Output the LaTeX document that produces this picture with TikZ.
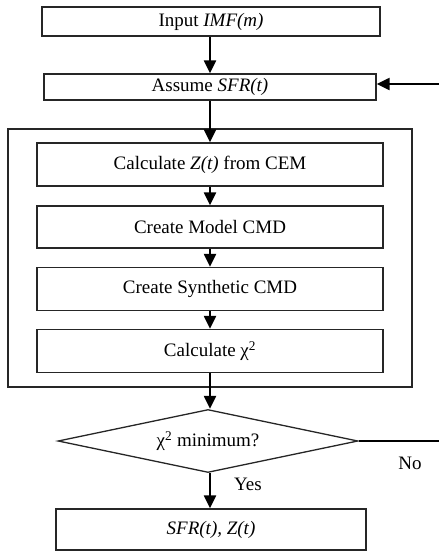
\documentclass[tikz,border=0pt]{standalone}
\usepackage{fontspec}
\setmainfont{Liberation Serif}
\usetikzlibrary{arrows.meta,shapes.geometric}
\begin{document}
\begin{tikzpicture}[x=1pt,y=-1pt,
  every node/.style={font=\fontsize{19}{22}\selectfont},
  stepbox/.style={draw=black!85,line width=1.3pt,inner sep=0pt},
  arr/.style={line width=2.2pt,-{Triangle[width=12pt,length=13pt]}},
  plain/.style={line width=2.2pt}]
\useasboundingbox (0,0) rectangle (439,560);
% top boxes
\node[stepbox,minimum width=338pt,minimum height=29pt] (in) at (211,21.5) {Input \textit{IMF(m)}};
\node[stepbox,minimum width=332pt,minimum height=26pt] (sfr) at (210,87) {Assume \textit{SFR(t)}};
% outer frame
\node[stepbox,minimum width=404pt,minimum height=258pt] (frame) at (210,258) {};
% inner boxes
\node[stepbox,minimum width=346pt,minimum height=43pt] (z) at (210,164.5) {Calculate \textit{Z(t)} from CEM};
\node[stepbox,minimum width=346pt,minimum height=42pt] (mod) at (210,227) {Create Model CMD};
\node[stepbox,minimum width=346pt,minimum height=43pt] (syn) at (210,289) {Create Synthetic CMD};
\node[stepbox,minimum width=346pt,minimum height=43pt] (chi) at (210,351) {Calculate χ\textsuperscript{2}};
% decision
\node[stepbox,shape=diamond,aspect=4.76,minimum width=300pt,minimum height=63pt] (dec) at (208,441) {χ\textsuperscript{2} minimum?};
% result
\node[stepbox,minimum width=310pt,minimum height=41pt] (res) at (211,529.5) {\textit{SFR(t), Z(t)}};
% labels
\node (no) at (410,463) {No};
\node (yes) at (248,484) {Yes};
% free ends
\coordinate (fbtop) at (439,84);
\coordinate (fbbot) at (439,441);
% connectors
\draw[arr] (in.south -| 210,0) -- (sfr.north -| 210,0);
\draw[arr] (fbtop) -- (sfr.east |- fbtop);
\draw[arr] (sfr.south -| 210,0) -- (z.north -| 210,0);
\draw[arr] (z.south -| 210,0) -- (mod.north -| 210,0);
\draw[arr] (mod.south -| 210,0) -- (syn.north -| 210,0);
\draw[arr] (syn.south -| 210,0) -- (chi.north -| 210,0);
\draw[arr] (chi.south -| 210,0) -- (dec.north -| 210,0);
\draw[arr] (dec.south -| 210,0) -- (res.north -| 210,0);
\draw[plain] (dec.east) -- (fbbot);
\end{tikzpicture}
\end{document}
